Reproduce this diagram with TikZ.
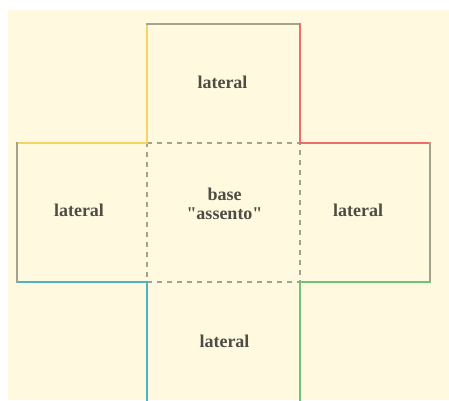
\documentclass[tikz,border=0pt]{standalone}
\usepackage{fontspec}
\setmainfont{Liberation Serif}
\begin{document}
\begin{tikzpicture}[x=1pt,y=-1pt,
  panel/.style={rectangle,inner sep=0pt,outer sep=0pt},
  lbl/.style={font=\fontsize{18}{19}\selectfont\bfseries,text=txtgray,align=center,inner sep=0pt},
  edge/.style={line width=1.8pt,line cap=rect},
  fold/.style={line width=1.5pt,draw=linegray,dash pattern=on 5pt off 5pt}]
\definecolor{paper}{HTML}{FFFADF}
\definecolor{linegray}{HTML}{A3A28C}
\definecolor{txtgray}{HTML}{4E4C44}
\definecolor{flapyellow}{HTML}{F6D462}
\definecolor{flapred}{HTML}{EE6D66}
\definecolor{flapblue}{HTML}{4CB3C8}
\definecolor{flapgreen}{HTML}{6CC37A}
\useasboundingbox (0,0) rectangle (449,400);
\fill[paper] (8,10) rectangle (449,400);
\begin{scope}
\clip (0,0) rectangle (449,400);
% the five faces of the unfolded box
\node[panel,minimum width=153pt,minimum height=119pt] (top) at (223.5,83.5) {};
\node[panel,minimum width=130pt,minimum height=139pt] (left) at (82,212.5) {};
\node[panel,minimum width=153pt,minimum height=139pt] (base) at (223.5,212.5) {};
\node[panel,minimum width=130pt,minimum height=139pt] (right) at (365,212.5) {};
\node[panel,minimum width=153pt,minimum height=124pt] (bottom) at (223.5,344) {};
% fold lines around the seat
\draw[fold] (base.north west) -- (base.north east) -- (base.south east) -- (base.south west) -- cycle;
% outer edges
\draw[edge,draw=flapyellow] (left.north west) -- (left.north east) -- (top.north west);
\draw[edge,draw=linegray] (top.north west) -- (top.north east);
\draw[edge,draw=flapred] (top.north east) -- (top.south east) -- (right.north east);
\draw[edge,draw=linegray] (right.north east) -- (right.south east);
\draw[edge,draw=flapgreen] (right.south east) -- (right.south west) -- (bottom.south east);
\draw[edge,draw=flapblue] (bottom.south west) -- (bottom.north west) -- (left.south west);
\draw[edge,draw=linegray] (left.south west) -- (left.north west);
\end{scope}
% labels
\node[lbl] at ([xshift=-1pt,yshift=1.5pt]top.center) {lateral};
\node[lbl] at ([xshift=-3pt,yshift=2.5pt]left.center) {lateral};
\node[lbl] at ([xshift=-7pt,yshift=2.5pt]right.center) {lateral};
\node[lbl] at ([xshift=1pt,yshift=3pt]bottom.center) {lateral};
\node[lbl] at ([xshift=1pt,yshift=8.5pt]base.center) {base\\\textquotedbl assento\textquotedbl};
\end{tikzpicture}
\end{document}
